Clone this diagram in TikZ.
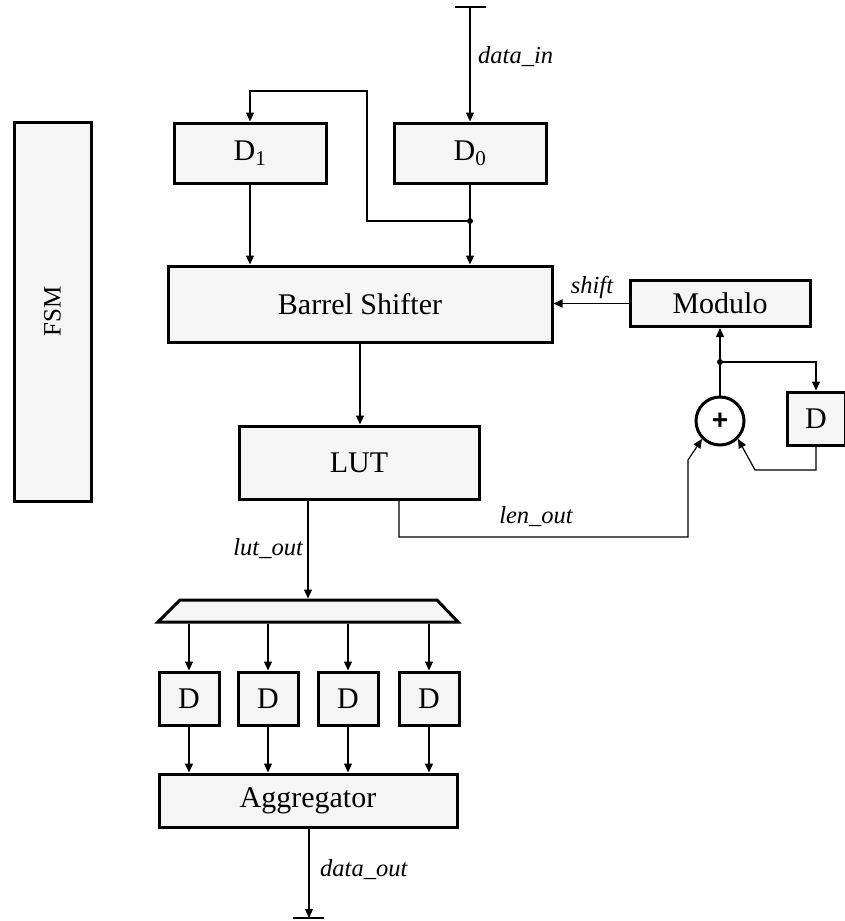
\documentclass[tikz,border=0pt]{standalone}
\usepackage{fontspec}
\setmainfont{Liberation Serif}
\newfontfamily\plusfont{Liberation Sans}
\usetikzlibrary{arrows.meta}
\definecolor{boxfill}{RGB}{245,245,245}
\begin{document}
\begin{tikzpicture}[x=1pt,y=-1pt,
  blk/.style={draw, line width=3pt, fill=boxfill, inner sep=0pt, font=\fontsize{30}{30}\selectfont},
  wire/.style={line width=1.2pt},
  arr/.style={wire, -{Triangle[length=9pt,width=8pt]}},
  lbl/.style={font=\fontsize{24.5}{25}\selectfont\itshape, inner sep=0pt},
  dot/.style={circle, fill, inner sep=0pt, minimum size=6pt}]
\useasboundingbox (0,0) rectangle (845,921);

% blocks
\node[blk, rotate=90, minimum width=379, minimum height=77, font=\fontsize{25}{25}\selectfont] (fsm) at (52.5,311.5) {FSM};
\node[blk, minimum width=152, minimum height=60] (d1) at (250,153) {D\textsubscript{1}};
\node[blk, minimum width=152, minimum height=60] (d0) at (470,153) {D\textsubscript{0}};
\node[blk, minimum width=384, minimum height=76] (bs) at (360,304) {Barrel Shifter};
\node[blk, minimum width=180, minimum height=46] (mod) at (720,303.5) {Modulo};
\node[blk, circle, fill=white, minimum size=48, font=\plusfont\bfseries\fontsize{28}{28}\selectfont] (add) at (720,421) {+};
\node[blk, minimum width=58, minimum height=53] (dr) at (816,418.5) {D};
\node[blk, minimum width=240, minimum height=73] (lut) at (359,462.5) {LUT};
\draw[line width=3pt, fill=boxfill, line join=miter] (180,600) -- (437,600) -- (458,622) -- (158,622) -- cycle;
\coordinate (dmxT) at (308,598.5);
\coordinate (dmxB) at (308,623.5);
\foreach \n/\x in {1/189,2/268,3/348,4/429}
  \node[blk, minimum width=60, minimum height=53] (r\n) at (\x,698.5) {D};
\node[blk, minimum width=298, minimum height=53] (agg) at (308,800.5) {Aggregator};

% input
\coordinate (inT) at (470,7);
\draw[wire] ([xshift=-15pt]inT) -- ([xshift=16pt]inT);
\draw[arr] (inT) -- (d0.north);
\node[lbl, anchor=base west] at (478,63) {data\_in};

% D0 / D1 to barrel shifter
\coordinate (j1) at (470,221);
\coordinate (fb1) at (367,221);
\coordinate (fb2) at (367,91);
\coordinate (fb3) at (250,91);
\draw[arr] (d0.south) -- (d0.south |- bs.north);
\draw[arr] (d1.south) -- (d1.south |- bs.north);
\draw[arr] (j1) -- (fb1) -- (fb2) -- (fb3) -- (d1.north);
\node[dot] at (j1) {};

% modulo loop
\draw[arr] (mod.west) -- (mod.west -| bs.east);
\node[lbl, anchor=base] at (592,293) {shift};
\coordinate (j2) at (720,362);
\draw[arr] (add.north) -- (j2) -- (mod.south);
\draw[arr] (j2) -| (dr.north);
\node[dot] at (j2) {};
\coordinate (c1) at (816,470);
\coordinate (c2) at (755,470);
\draw[arr] (dr.south) -- (c1) -- (c2) -- (add.-45);

% barrel shifter to LUT
\draw[arr] (bs.south) -- (bs.south |- lut.north);

% len_out
\coordinate (l1) at (399,537);
\coordinate (l2) at (688,537);
\coordinate (l3) at (688,460);
\draw[arr] (lut.south -| l1) -- (l1) -- (l2) -- (l3) -- (add.-135);
\node[lbl, anchor=base] at (536,523) {len\_out};

% lut_out
\draw[arr] (lut.south -| dmxT) -- (dmxT);
\node[lbl, anchor=base east] at (303,555) {lut\_out};

% demux to registers to aggregator
\foreach \n in {1,...,4} {
  \draw[arr] (r\n.north |- dmxB) -- (r\n.north);
  \draw[arr] (r\n.south) -- (r\n.south |- agg.north);
}

% output
\coordinate (outB) at (309,918);
\draw[arr] (agg.south -| outB) -- (outB);
\draw[wire] ([xshift=-16pt]outB) -- ([xshift=15pt]outB);
\node[lbl, anchor=base west] at (320,876) {data\_out};
\end{tikzpicture}
\end{document}
